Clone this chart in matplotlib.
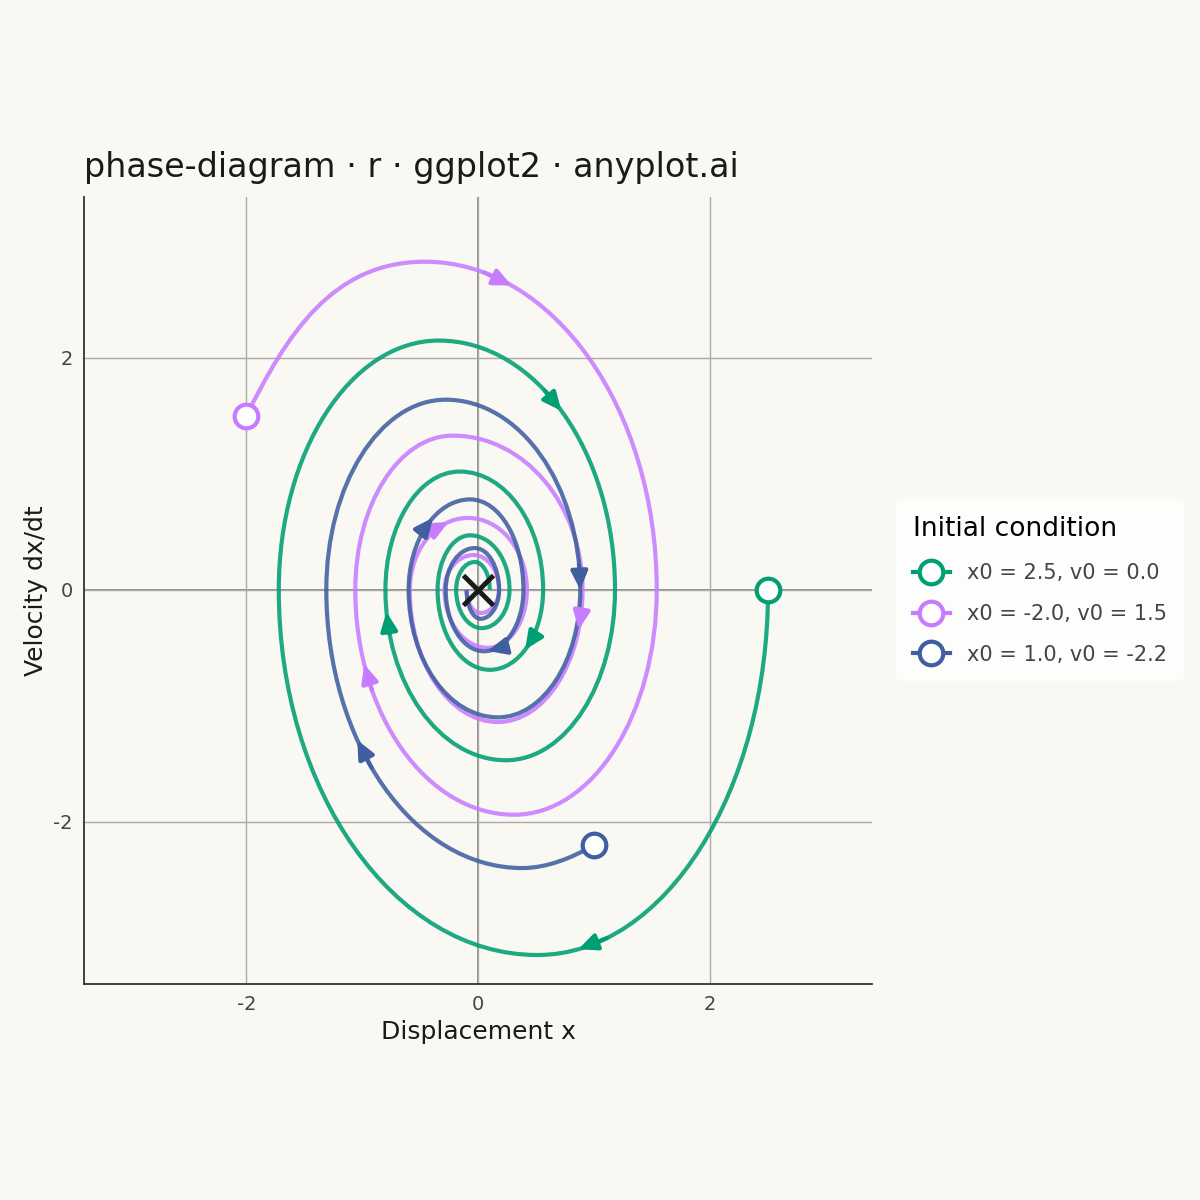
import numpy as np
import matplotlib.pyplot as plt
from matplotlib.path import Path
from matplotlib.patches import PathPatch
from matplotlib.lines import Line2D

# turning points of each trajectory
# (x at v = 0 crossings, (x, v) at velocity extremes), alternating
green_start = (2.5, 0.0)
green_turns = [(0.51, -3.15), (-1.72, 0), (-0.34, 2.15), (1.18, 0), (0.24, -1.47),
               (-0.80, 0), (-0.16, 1.02), (0.56, 0), (0.10, -0.69), (-0.35, 0),
               (-0.07, 0.47), (0.27, 0), (0.03, -0.33), (-0.19, 0), (-0.03, 0.24),
               (0.10, 0)]
purple_start = (-2.0, 1.5)
purple_turns = [(-0.46, 2.83), (1.54, 0), (0.31, -1.94), (-1.06, 0), (-0.22, 1.33),
                (0.90, 0), (0.17, -1.14), (-0.59, 0), (-0.09, 0.62), (0.42, 0),
                (0.08, -0.50), (-0.29, 0), (-0.04, 0.30), (0.18, 0), (0.02, -0.20),
                (-0.10, 0)]
blue_start = (1.0, -2.2)
blue_turns = [(0.38, -2.40), (-1.31, 0), (-0.28, 1.64), (0.88, 0), (0.17, -1.10),
              (-0.60, 0), (-0.07, 0.78), (0.39, 0), (0.05, -0.53), (-0.28, 0),
              (-0.03, 0.36), (0.18, 0), (0.02, -0.25), (-0.10, 0)]
labels = ["x0 = 2.5, v0 = 0.0", "x0 = -2.0, v0 = 1.5", "x0 = 1.0, v0 = -2.2"]
colors = ["#009E73", "#C77CFF", "#3F5FA0"]
# segment indices carrying a direction arrow, and position along the segment
arrow_segs = [[(0, 0.85), (3, 0.45), (5, 0.88), (8, 0.5)],
              [(1, 0.2), (6, 0.15), (3, 0.75), (8, 0.75)],
              [(1, 0.6), (3, 0.96), (6, 0.55), (8, 0.9)]]
first_ctrl = [None, ((0.35, 0.7), (-0.8, 0)), ((-0.2, -0.12), (0.2, 0))]

K = 0.5523


def segments(start, turns, ctrl0):
    segs = []
    p0 = np.array(start, float)
    for i, t in enumerate(turns):
        p1 = np.array(t, float)
        if i == 0 and ctrl0 is not None:
            c1 = p0 + ctrl0[0]
            c2 = p1 + ctrl0[1]
        elif abs(p0[1]) < 1e-9:  # from axis crossing to velocity extreme
            c1 = p0 + (0, K * (p1[1] - p0[1]))
            c2 = p1 + (K * (p0[0] - p1[0]), 0)
        else:  # from velocity extreme to axis crossing
            c1 = p0 + (K * (p1[0] - p0[0]), 0)
            c2 = p1 + (0, K * (p0[1] - p1[1]))
        segs.append((p0, c1, c2, p1))
        p0 = p1
    return segs


def bez(s, t):
    p0, c1, c2, p1 = s
    return ((1 - t) ** 3 * p0 + 3 * (1 - t) ** 2 * t * c1
            + 3 * (1 - t) * t ** 2 * c2 + t ** 3 * p1)


fig = plt.figure(figsize=(12, 12), dpi=100, facecolor="#FAF8F2")
ax = fig.add_axes([0.07, 0.18, 0.657, 0.656], facecolor="#FAF8F2")

data = [(green_start, green_turns), (purple_start, purple_turns), (blue_start, blue_turns)]
handles = []
for k, (st, tr) in enumerate(data):
    segs = segments(st, tr, first_ctrl[k])
    verts = [segs[0][0]]
    codes = [Path.MOVETO]
    for s in segs:
        verts += [s[1], s[2], s[3]]
        codes += [Path.CURVE4] * 3
    ax.add_patch(PathPatch(Path(verts, codes), fill=False, ec=colors[k],
                           lw=3, alpha=0.88, zorder=2))
    for si, t in arrow_segs[k]:
        a = bez(segs[si], t - 0.04)
        b = bez(segs[si], t + 0.04)
        ax.annotate("", xy=b, xytext=a, zorder=4,
                    arrowprops=dict(arrowstyle="-|>,head_length=1.1,head_width=0.5",
                                    color=colors[k], lw=3, shrinkA=0, shrinkB=0))
    ax.plot(*st, "o", ms=17, mfc="white", mec=colors[k], mew=3, zorder=5)
    handles.append(Line2D([], [], color=colors[k], lw=3, marker="o", ms=17,
                          mfc="white", mec=colors[k], mew=3))

ax.plot(0, 0, "x", ms=22, mew=3.5, color="#1a1a1a", zorder=6)

ax.set_xlim(-3.4, 3.4)
ax.set_ylim(-3.4, 3.39)
ax.set_xticks([-2, 0, 2])
ax.set_yticks([-2, 0, 2])
ax.set_xticklabels(["-2", "0", "2"])
ax.set_yticklabels(["-2", "0", "2"])
ax.grid(color="#aaaaaa", lw=1, zorder=0)
ax.axhline(0, color="#888888", lw=1.3, zorder=1)
ax.axvline(0, color="#888888", lw=1.3, zorder=1)
for s in ["top", "right"]:
    ax.spines[s].set_visible(False)
for s in ["left", "bottom"]:
    ax.spines[s].set_color("#333333")
    ax.spines[s].set_linewidth(1.3)
ax.tick_params(length=0, labelsize=14, labelcolor="#444444", pad=8)
ax.set_xlabel("Displacement x", fontsize=18, color="#1a1a1a")
ax.set_ylabel("Velocity dx/dt", fontsize=18, color="#1a1a1a")
ax.set_title("phase-diagram · r · ggplot2 · anyplot.ai", fontsize=24,
             loc="left", color="#1a1a1a", pad=14)

leg = fig.legend(handles, labels, loc="center left", bbox_to_anchor=(0.738, 0.508),
                 title="Initial condition", fontsize=15, title_fontsize=19,
                 frameon=True, facecolor="white", edgecolor="none",
                 handlelength=1.8, labelspacing=1.0, borderpad=0.8)
leg._legend_box.align = "left"
for t in leg.get_texts():
    t.set_color("#444444")

fig.savefig("out.png", dpi=100, facecolor=fig.get_facecolor())
